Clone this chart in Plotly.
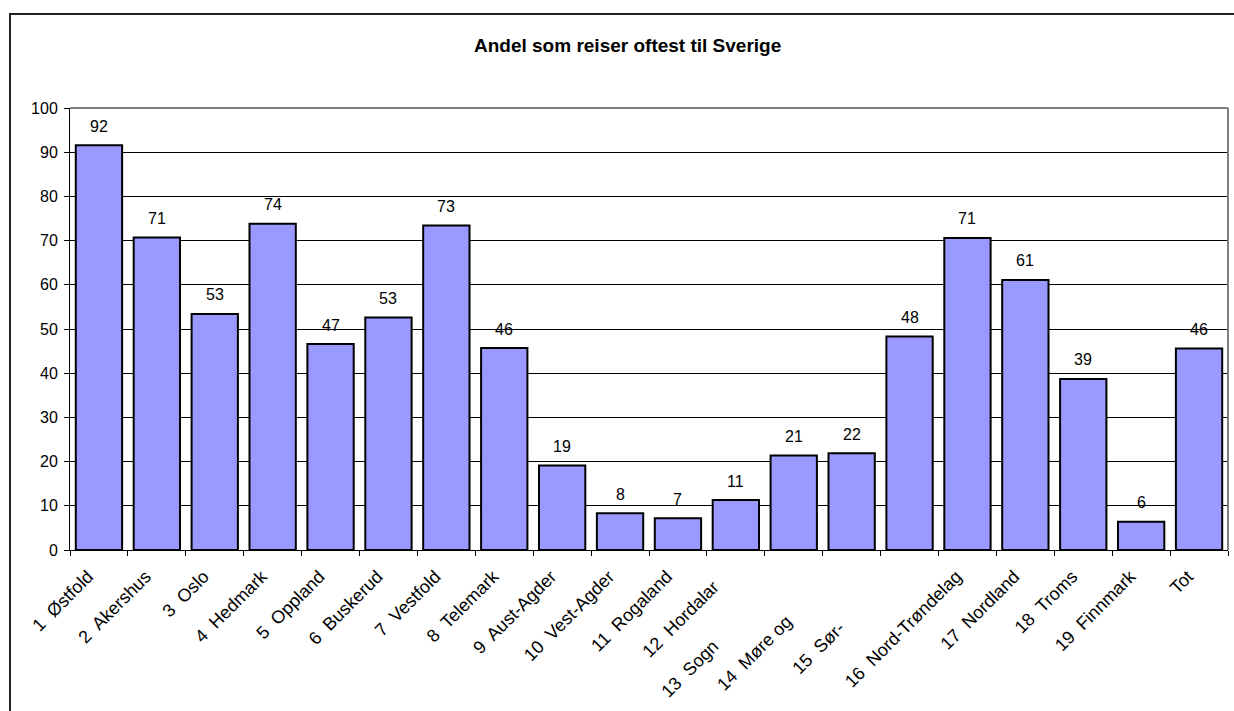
import plotly.graph_objects as go

# Share of respondents who most often travel to Sweden, by county (percent)
categories = [
    "1 Østfold", "2 Akershus", "3 Oslo", "4 Hedmark", "5 Oppland",
    "6 Buskerud", "7 Vestfold", "8 Telemark", "9 Aust-Agder", "10 Vest-Agder",
    "11 Rogaland", "12 Hordaland", "13 Sogn og Fjordane", "14 Møre og Romsdal",
    "15 Sør-Trøndelag", "16 Nord-Trøndelag", "17 Nordland", "18 Troms",
    "19 Finnmark", "Tot",
]
values = [
    91.6, 70.7, 53.4, 73.8, 46.6, 52.6, 73.4, 45.7, 19.1, 8.3,
    7.2, 11.3, 21.4, 21.9, 48.3, 70.6, 61.1, 38.7, 6.4, 45.6,
]
# Axis label text; the long county names are drawn cut short
tick_labels = [
    "1 Østfold", "2 Akershus", "3 Oslo", "4 Hedmark", "5 Oppland",
    "6 Buskerud", "7 Vestfold", "8 Telemark", "9 Aust-Agder", "10 Vest-Agder",
    "11 Rogaland", "", "", "", "", "16 Nord-Trøndelag", "17 Nordland",
    "18 Troms", "19 Finnmark", "Tot",
]
cut_categories = ["12 Hordaland", "13 Sogn og Fjordane", "14 Møre og Romsdal", "15 Sør-Trøndelag"]
cut_labels = ["12 Hordalar", "13 Sogn", "14 Møre og", "15 Sør-"]
y_ticks = list(range(0, 101, 10))

title_text = "Andel som reiser oftest til Sverige"

# Layout geometry (pixels)
W, H = 1234, 711
L, R, T, B = 70, 6, 108, 161
PW, PH = W - L - R, H - T - B
cut_shifts = [(-55, -69), (-104, -119), (-97, -103), (-91, -98)]

FONT = "Arial, 'Liberation Sans', sans-serif"
NUM_SIZE = 16
CAT_SIZE = 18


def px_x(p):
    return (p - L) / PW


def px_y(p):
    return (H - B - p) / PH


def wide_gap(label):
    # widen the gap between the county number and its name
    return label.replace(" ", "\u00a0 ", 1) if label else label


fig = go.Figure()
fig.add_trace(go.Bar(
    x=categories,
    y=values,
    marker=dict(color="#9999FF", line=dict(color="#000000", width=2)),
    hoverinfo="x+y",
))

annotations = []
# value labels above the bars
for c, v in zip(categories, values):
    annotations.append(dict(
        x=c, y=v, xref="x", yref="y", text=f"{v:.0f}", showarrow=False,
        yanchor="middle", xanchor="center", yshift=19,
        font=dict(family=FONT, size=NUM_SIZE, color="#000000"),
    ))
# truncated category labels
for c, t, (dx, dy) in zip(cut_categories, cut_labels, cut_shifts):
    annotations.append(dict(
        x=c, y=0, xref="x", yref="paper", text=wide_gap(t), showarrow=False,
        textangle=-45, xanchor="center", yanchor="middle",
        xshift=dx, yshift=dy,
        font=dict(family=FONT, size=CAT_SIZE, color="#000000"),
    ))
# chart title
annotations.append(dict(
    x=px_x(627), y=px_y(45), xref="paper", yref="paper",
    text=f"<b>{title_text}</b>", showarrow=False,
    xanchor="center", yanchor="middle",
    font=dict(family=FONT, size=19, color="#000000"),
))

shapes = [
    # outer chart border (runs off the right and bottom edges)
    dict(type="rect", xref="paper", yref="paper",
         x0=px_x(10), x1=px_x(W + 20), y0=px_y(14), y1=px_y(H + 20),
         line=dict(color="#222222", width=2), fillcolor="rgba(0,0,0,0)", layer="above"),
    # grey plot-area frame on top and right
    dict(type="line", xref="paper", yref="paper", x0=0, x1=1, y0=1, y1=1,
         line=dict(color="#808080", width=2), layer="above"),
    dict(type="line", xref="paper", yref="paper", x0=1, x1=1, y0=0, y1=1,
         line=dict(color="#808080", width=2), layer="above"),
]

fig.update_layout(
    width=W, height=H,
    margin=dict(l=L, r=R, t=T, b=B, pad=0),
    paper_bgcolor="#FFFFFF", plot_bgcolor="#FFFFFF",
    showlegend=False,
    bargap=0.2,
    font=dict(family=FONT, size=NUM_SIZE, color="#000000"),
    annotations=annotations,
    shapes=shapes,
    xaxis=dict(
        type="category",
        tickmode="array", tickvals=categories,
        ticktext=[wide_gap(t) for t in tick_labels],
        tickangle=-45, tickson="boundaries",
        ticks="outside", ticklen=5, tickwidth=1, tickcolor="#000000",
        ticklabelshift=-11, ticklabelstandoff=8,
        showline=True, linecolor="#000000", linewidth=1,
        showgrid=False, zeroline=False,
        tickfont=dict(family=FONT, size=CAT_SIZE, color="#000000"),
        range=[-0.5, len(categories) - 0.5],
    ),
    yaxis=dict(
        range=[0, 100], tickmode="array", tickvals=y_ticks,
        ticks="outside", ticklen=5, tickwidth=1, tickcolor="#000000",
        ticklabelstandoff=3,
        showline=True, linecolor="#000000", linewidth=1,
        showgrid=True, gridcolor="#000000", gridwidth=1,
        zeroline=False,
        tickfont=dict(family=FONT, size=NUM_SIZE, color="#000000"),
    ),
)

fig.write_html("out.html")
